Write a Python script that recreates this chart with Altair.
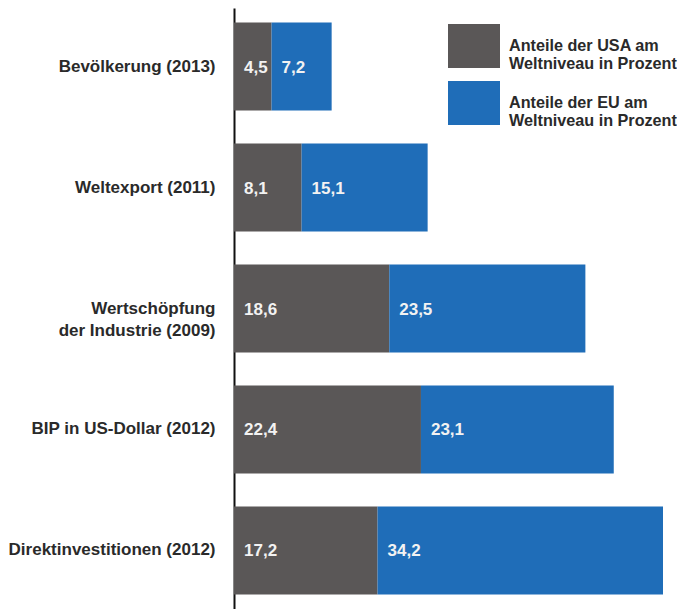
import altair as alt
import pandas as pd

categories = [
    "Bevölkerung (2013)",
    "Weltexport (2011)",
    "Wertschöpfung|der Industrie (2009)",
    "BIP in US-Dollar (2012)",
    "Direktinvestitionen (2012)",
]
usa_values = [4.5, 8.1, 18.6, 22.4, 17.2]
eu_values = [7.2, 15.1, 23.5, 23.1, 34.2]
series_names = [
    "Anteile der USA am|Weltniveau in Prozent",
    "Anteile der EU am|Weltniveau in Prozent",
]
series_colors = ["#5a5757", "#1f6db8"]

rows = []
for cat, u, e in zip(categories, usa_values, eu_values):
    rows.append({"cat": cat, "series": series_names[0], "order": 0, "start": 0.0, "end": u, "value": u})
    rows.append({"cat": cat, "series": series_names[1], "order": 1, "start": u, "end": u + e, "value": e})
df = pd.DataFrame(rows)

FONT = "Liberation Sans"
FS = 17

y_enc = alt.Y(
    "cat:N",
    sort=categories,
    scale=alt.Scale(paddingInner=0.273, paddingOuter=0.12),
    axis=alt.Axis(
        title=None,
        ticks=False,
        labelExpr="split(datum.label, '|')",
        labelFont=FONT,
        labelFontSize=FS,
        labelFontWeight="bold",
        labelColor="#2a2a2a",
        labelPadding=19,
        labelLineHeight=22,
        domainColor="#111111",
        domainWidth=2,
        labelLimit=300,
    ),
)
x_scale = alt.Scale(domain=[0, 51.4], nice=False, zero=True)

bars = alt.Chart(df).mark_bar(size=88).encode(
    y=y_enc,
    x=alt.X("start:Q", scale=x_scale, axis=None),
    x2="end:Q",
    color=alt.Color(
        "series:N",
        sort=series_names,
        scale=alt.Scale(domain=series_names, range=series_colors),
        legend=alt.Legend(
            title=None,
            orient="none",
            legendX=214,
            legendY=12,
            symbolType="M-1,-0.846H1V0.846H-1Z",
            symbolSize=2704,
            symbolStrokeWidth=0,
            symbolOpacity=1,
            labelExpr="split(datum.label, '|')",
            labelFont=FONT,
            labelFontSize=16.2,
            labelFontWeight="bold",
            labelColor="#2a2a2a",
            labelOffset=9,
            labelLimit=300,
            rowPadding=4,
            labelBaseline="middle",
        ),
    ),
)

labels = alt.Chart(df).transform_calculate(
    label="replace(format(datum.value, '.1f'), '.', ',')"
).mark_text(
    align="left", baseline="middle", dx=10, dy=1,
    font=FONT, fontSize=FS, fontWeight="bold", color="#f2f2f2",
).encode(
    y=alt.Y("cat:N", sort=categories),
    x=alt.X("start:Q", scale=x_scale),
    text="label:N",
)

chart = alt.layer(bars, labels).properties(
    width=429,
    height=601,
    padding={"left": 0, "top": 0, "right": 0, "bottom": 0},
).configure_view(stroke=None).configure_axis(grid=False)

chart.save("out.html", embed_options={"renderer": "svg", "actions": False})
